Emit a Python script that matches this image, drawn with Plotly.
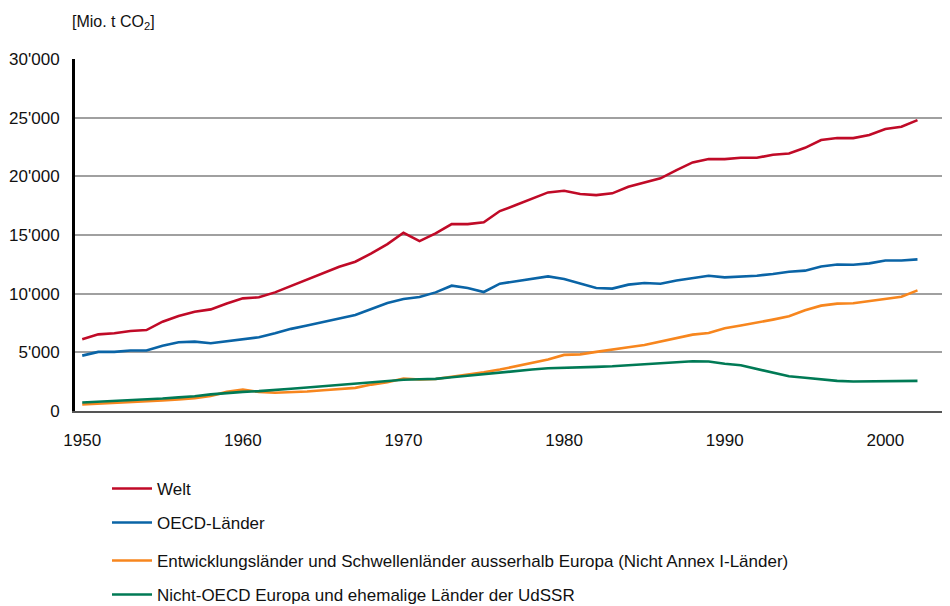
import plotly.graph_objects as go

years = list(range(1950, 2003))

welt = [6110, 6530, 6620, 6815, 6900, 7610, 8090, 8460, 8660, 9170,
        9600, 9690, 10110, 10650, 11220, 11730, 12300, 12720, 13430, 14230,
        15190, 14480, 15140, 15930, 15930, 16080, 17040, 17550, 18120, 18630,
        18770, 18490, 18400, 18550, 19110, 19480, 19830, 20530, 21190, 21470,
        21470, 21580, 21580, 21840, 21950, 22430, 23090, 23260, 23260, 23520,
        24030, 24220, 24790]

oecd = [4720, 5040, 5040, 5150, 5150, 5570, 5860, 5910, 5770, 5940,
        6140, 6280, 6620, 7000, 7280, 7560, 7870, 8180, 8700, 9200,
        9550, 9720, 10110, 10680, 10480, 10140, 10850, 11050, 11250, 11470,
        11250, 10850, 10480, 10430, 10770, 10910, 10850, 11130, 11330, 11530,
        11390, 11430, 11530, 11680, 11870, 11960, 12320, 12490, 12460, 12580,
        12830, 12830, 12920]

entw = [560, 620, 680, 740, 800, 900, 990, 1100, 1280, 1630,
        1830, 1630, 1550, 1600, 1660, 1770, 1890, 1970, 2250, 2450,
        2770, 2680, 2730, 2910, 3110, 3300, 3530, 3810, 4100, 4380,
        4780, 4830, 5040, 5210, 5430, 5630, 5910, 6200, 6510, 6650,
        7050, 7280, 7510, 7790, 8070, 8580, 8980, 9150, 9180, 9380,
        9600, 9740, 10280]

nicht_oecd = [730, 790, 840, 900, 960, 1060, 1160, 1250, 1420, 1550,
              1630, 1690, 1770, 1890, 2000, 2110, 2230, 2340, 2450, 2570,
              2660, 2700, 2740, 2880, 3020, 3170, 3300, 3420, 3530, 3640,
              3660, 3700, 3760, 3810, 3900, 3980, 4070, 4190, 4240, 4220,
              4020, 3900, 3590, 3300, 2960, 2830, 2680, 2570, 2510, 2510,
              2540, 2540, 2570]

series_names = ["Welt", "OECD-Länder",
                "Entwicklungsländer und Schwellenländer ausserhalb Europa (Nicht Annex I-Länder)",
                "Nicht-OECD Europa und ehemalige Länder der UdSSR"]
series_values = [welt, oecd, entw, nicht_oecd]
colors = ["#C00A27", "#0A64A6", "#F7861E", "#007A55"]

y_tickvals = [0, 5000, 10000, 15000, 20000, 25000, 30000]
y_ticktext = ["0", "5'000", "10'000", "15'000", "20'000", "25'000", "30'000"]
x_tickvals = [1950, 1960, 1970, 1980, 1990, 2000]

FONT = "Liberation Sans Narrow, Arial Narrow, Liberation Sans, Arial, sans-serif"

# page has an 8px body margin: work in page pixels, convert to figure pixels
OFF = 8
W, H = 950 - OFF, 606 - OFF
PL, PR = 75 - OFF, 948 - OFF
plot_top, plot_bottom = 59 - OFF, 411 - OFF
plot_h = plot_bottom - plot_top
plot_w = PR - PL

fig = go.Figure()
legend_ids = ["legend", "legend2", "legend3", "legend4"]
for name, vals, col, lg in zip(series_names, series_values, colors, legend_ids):
    fig.add_trace(go.Scatter(x=years, y=vals, mode="lines", name=name,
                             line=dict(color=col, width=2.6), legend=lg))

legend_top_px = [463, 497, 535, 569]  # figure pixels
legend_common = dict(x=(99 - PL) / plot_w, xanchor="left", yanchor="top", orientation="v",
                     font=dict(family=FONT, size=17, color="#111"),
                     bgcolor="rgba(0,0,0,0)", itemwidth=40)
layout_legends = {}
for lg, ty in zip(legend_ids, legend_top_px):
    d = dict(legend_common)
    d["y"] = (plot_bottom - ty) / plot_h
    layout_legends[lg] = d

fig.update_layout(
    width=W, height=H,
    margin=dict(l=PL, r=W - PR, t=plot_top, b=H - plot_bottom, autoexpand=False),
    plot_bgcolor="white", paper_bgcolor="white",
    font=dict(family=FONT, size=17, color="#111"),
    showlegend=True,
    **layout_legends,
    xaxis=dict(range=[1949.55, 2003.9], tickvals=x_tickvals, showgrid=False,
               showline=True, linecolor="#555", linewidth=2, ticks="",
               zeroline=False, tickfont=dict(family=FONT, size=17, color="#111"),
               ticklabelstandoff=13, automargin=False),
    yaxis=dict(range=[0, 30000], tickvals=y_tickvals, ticktext=y_ticktext,
               showgrid=True, gridcolor="#a0a0a0", gridwidth=1.5,
               showline=True, linecolor="#000", linewidth=3, ticks="",
               zeroline=False, tickfont=dict(family=FONT, size=17, color="#111"),
               ticklabelstandoff=9, automargin=False),
    annotations=[dict(text="[Mio. t CO<sub>2</sub>]", xref="paper", yref="paper",
                      x=(62 - PL) / plot_w, y=(plot_bottom - 3) / plot_h,
                      xanchor="left", yanchor="top", showarrow=False,
                      font=dict(family=FONT, size=16, color="#111"))],
)

fig.write_html("out.html")
